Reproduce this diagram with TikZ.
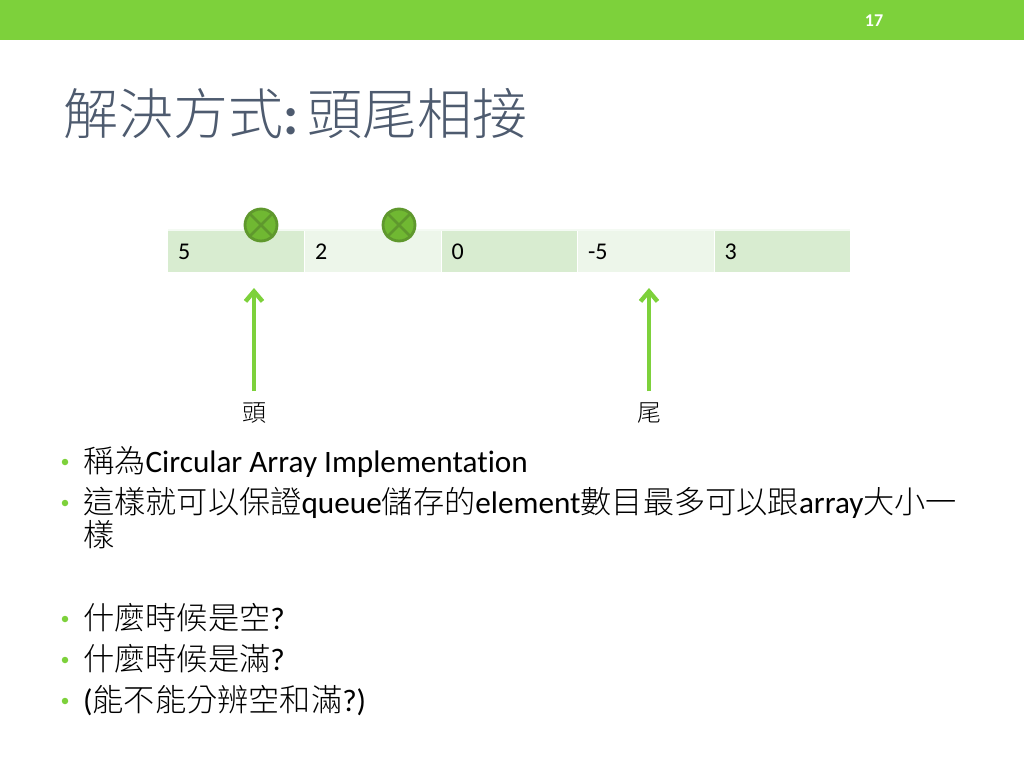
\documentclass[tikz,border=0pt]{standalone}
\usepackage{fontspec}
\setmainfont{Carlito}[Ligatures=NoCommon]
\newfontfamily\cjk{Noto Sans CJK TC Light}
\definecolor{barg}{HTML}{7DD13B}
\definecolor{titlec}{HTML}{4E5B6F}
\definecolor{cellA}{HTML}{D8ECD0}
\definecolor{cellB}{HTML}{EDF6EA}
\definecolor{xfill}{HTML}{70B832}
\definecolor{xline}{HTML}{5F982D}
\definecolor{arrowg}{HTML}{7DD13B}
\usetikzlibrary{arrows.meta}
\tikzset{
 cellbox/.style={anchor=north west,minimum width=135.5pt,minimum height=41pt,inner sep=0pt,outer sep=0pt,text=black,font=\fontsize{24}{26}\selectfont,align=left,text width=115.5pt},
 crossmark/.style={circle,draw=xline,line width=2.8pt,fill=xfill,minimum size=32pt,inner sep=0pt},
 ptr/.style={draw=arrowg,line width=3.6pt,-{Straight Barb[length=10pt,width=17pt,line width=4.4pt]}},
 line/.style={anchor=base west,inner sep=0pt,font=\fontsize{31.2}{33}\selectfont,text=black},
 bullet/.style={circle,fill=arrowg,minimum size=6.5pt,inner sep=0pt},
 sublabel/.style={inner sep=0pt,font=\cjk\fontsize{24}{26}\selectfont,text=black}
}
\begin{document}
\begin{tikzpicture}[x=1pt,y=-1pt]
\useasboundingbox (0,0) rectangle (1024,768);
\fill[white] (0,0) rectangle (1024,768);
\fill[barg] (0,0) rectangle (1024,40.5);
\node[inner sep=0pt,text=white,font=\bfseries\fontsize{18}{20}\selectfont] (num) at (874,20.5) {17};
\node[anchor=base west,inner sep=0pt,text=titlec,font=\fontsize{55}{57}\selectfont] (title) at (63,134) {{\cjk 解決方式}\textbf{:}\,{\cjk 頭尾相接}};
\fill[cellB!60!white] (168,229) rectangle (850,231);
\node[cellbox,fill=cellA] (c1) at (168,231) {5};
\node[cellbox,fill=cellB] (c2) at (305,231) {2};
\node[cellbox,fill=cellA] (c3) at (441.5,231) {0};
\node[cellbox,fill=cellB] (c4) at (578,231) {-5};
\node[cellbox,fill=cellA] (c5) at (714.5,231) {3};
\foreach \n/\x in {m1/261,m2/399}{
 \node[crossmark] (\n) at (\x,225) {};
 \draw[xline,line width=2.8pt] (\n.north west) -- (\n.south east) (\n.north east) -- (\n.south west);
}
\node[sublabel] (head) at (254,413) {頭};
\node[sublabel] (tail) at (649,413) {尾};
\coordinate (ha) at (254,288);
\coordinate (ta) at (649,288);
\path[ptr] (254,391) -- (ha);
\path[ptr] (649,391) -- (ta);
\foreach \y in {462,503,619,660,701}{\node[bullet] at (65,\y) {};}
\node[line] (l1) at (83,472) {{\cjk 稱為}Circular Array Implementation};
\node[line] (l2) at (83,513) {{\cjk 這樣就可以保證}queue{\cjk 儲存的}element{\cjk 數目最多可以跟}array{\cjk 大小一}};
\node[line] (l3) at (83,546) {{\cjk 樣}};
\node[line] (l4) at (83,629) {{\cjk 什麼時候是空}?};
\node[line] (l5) at (83,670) {{\cjk 什麼時候是滿}?};
\node[line] (l6) at (83,711) {({\cjk 能不能分辨空和滿}?)};
\end{tikzpicture}
\end{document}
